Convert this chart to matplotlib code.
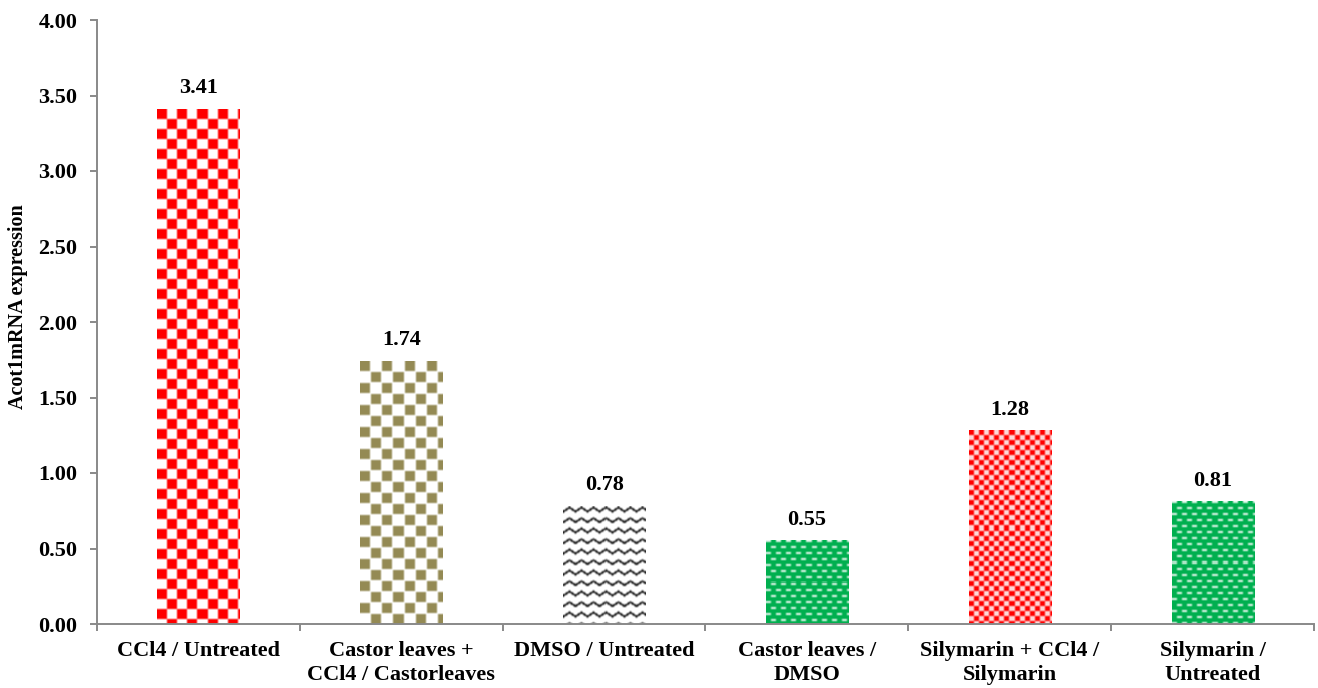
import numpy as np
import matplotlib
matplotlib.use("Agg")
import matplotlib.pyplot as plt
from matplotlib.ticker import FixedLocator, FormatStrFormatter

# Relative Acot1 mRNA expression for each comparison
categories = [
    "CCl4 / Untreated",
    "Castor leaves +\nCCl4 / Castorleaves",
    "DMSO / Untreated",
    "Castor leaves /\nDMSO",
    "Silymarin + CCl4 /\nSilymarin",
    "Silymarin /\nUntreated",
]
values = [3.41, 1.74, 0.78, 0.55, 1.28, 0.81]
y_ticks = [0.0, 0.5, 1.0, 1.5, 2.0, 2.5, 3.0, 3.5, 4.0]
pattern_kinds = ["big_red", "olive", "waves", "green", "small_red", "green"]

plt.rcParams["font.family"] = ["Liberation Serif", "DejaVu Serif"]
plt.rcParams["font.weight"] = "bold"

W_PX, H_PX, DPI = 1318, 688, 100
fig = plt.figure(figsize=(W_PX / DPI, H_PX / DPI), dpi=DPI)
ax = fig.add_axes([97 / W_PX, (H_PX - 624) / H_PX, (1314 - 97) / W_PX, (624 - 20) / H_PX])

n = len(categories)
x = np.arange(n)
ax.set_xlim(-0.5, n - 0.5)
ax.set_ylim(0, 4.0)

bars = ax.bar(x, values, width=0.405, color="none", edgecolor="none", zorder=2)


def hexrgb(h):
    h = h.lstrip("#")
    return np.array([int(h[i:i + 2], 16) for i in (0, 2, 4)], dtype=float) / 255.0


WHITE = np.array([1.0, 1.0, 1.0])


def soften(img):
    # light 3x3 smoothing so pattern edges look anti-aliased
    p = np.pad(img, ((1, 1), (1, 1), (0, 0)), mode="edge")
    acc = np.zeros_like(img)
    k = np.array([[1, 2, 1], [2, 4, 2], [1, 2, 1]], dtype=float)
    k /= k.sum()
    for dy in range(3):
        for dx in range(3):
            acc += k[dy, dx] * p[dy:dy + img.shape[0], dx:dx + img.shape[1]]
    return acc


def make_pattern(kind, h, w):
    yy, xx = np.mgrid[0:h, 0:w]
    img = np.ones((h, w, 3))
    if kind == "big_red":
        mask = ((yy // 10) + (xx // 10)) % 2 == 0
        img[mask] = hexrgb("#FF0000")
    elif kind == "olive":
        cell = 11
        inner = ((yy % cell) < 10) & ((xx % cell) < 10)
        mask = (((yy // cell) + (xx // cell)) % 2 == 0) & inner
        img[mask] = hexrgb("#948A54")
    elif kind == "small_red":
        mask = ((yy // 5) + (xx // 5)) % 2 == 0
        img[:] = hexrgb("#FF0000")
        img[~mask] = WHITE
        img = 0.85 * img + 0.15 * hexrgb("#FF0000")
    elif kind == "green":
        img[:] = hexrgb("#00B050")
        row = yy // 6
        shift = (row % 2) * 5
        dash = ((yy % 6) < 2) & (((xx + shift) % 10) < 5)
        img[dash] = 0.1 * hexrgb("#00B050") + 0.9 * WHITE
    elif kind == "waves":
        period, spacing, amp = 12.0, 10.5, 4.0
        phase = (xx / period) % 1.0
        f = amp * np.abs(2 * phase - 1)
        d = (yy - f) % spacing
        mask = d < 2.2
        img[mask] = hexrgb("#1a1a1a")
    return soften(img)


for bar, kind in zip(bars, pattern_kinds):
    bb = bar.get_window_extent()
    pw = max(int(round(bb.width)), 1)
    ph = max(int(round(bb.height)), 1)
    tex = make_pattern(kind, ph, pw)
    x0, y0 = bar.get_x(), bar.get_y()
    ax.imshow(tex, extent=(x0, x0 + bar.get_width(), y0, y0 + bar.get_height()),
              aspect="auto", interpolation="nearest", zorder=2, clip_path=bar,
              clip_on=True)

ax.bar_label(bars, labels=[f"{v:.2f}" for v in values], padding=8,
             fontsize=16, fontweight="bold", color="black")

# Axes styling
spine_color = "#898989"
for side in ("top", "right"):
    ax.spines[side].set_visible(False)
for side in ("left", "bottom"):
    ax.spines[side].set_color(spine_color)
    ax.spines[side].set_linewidth(1.4)

ax.yaxis.set_major_locator(FixedLocator(y_ticks))
ax.yaxis.set_major_formatter(FormatStrFormatter("%.2f"))
ax.tick_params(axis="y", which="major", direction="out", length=5, width=1.4,
               color=spine_color, labelsize=16, pad=9)

ax.set_xticks(x)
ax.set_xticklabels(categories, fontsize=16, fontweight="bold", linespacing=1.3)
ax.tick_params(axis="x", which="major", length=0, pad=12)
ax.xaxis.set_minor_locator(FixedLocator(np.arange(-0.5, n, 1.0)))
ax.tick_params(axis="x", which="minor", direction="out", length=5, width=1.4,
               color=spine_color)

ax.set_ylabel("Acot1mRNA expression", fontsize=14.5, fontweight="bold")
ax.yaxis.set_label_coords(-0.057, 0.525)

fig.savefig("out.png", dpi=DPI)
